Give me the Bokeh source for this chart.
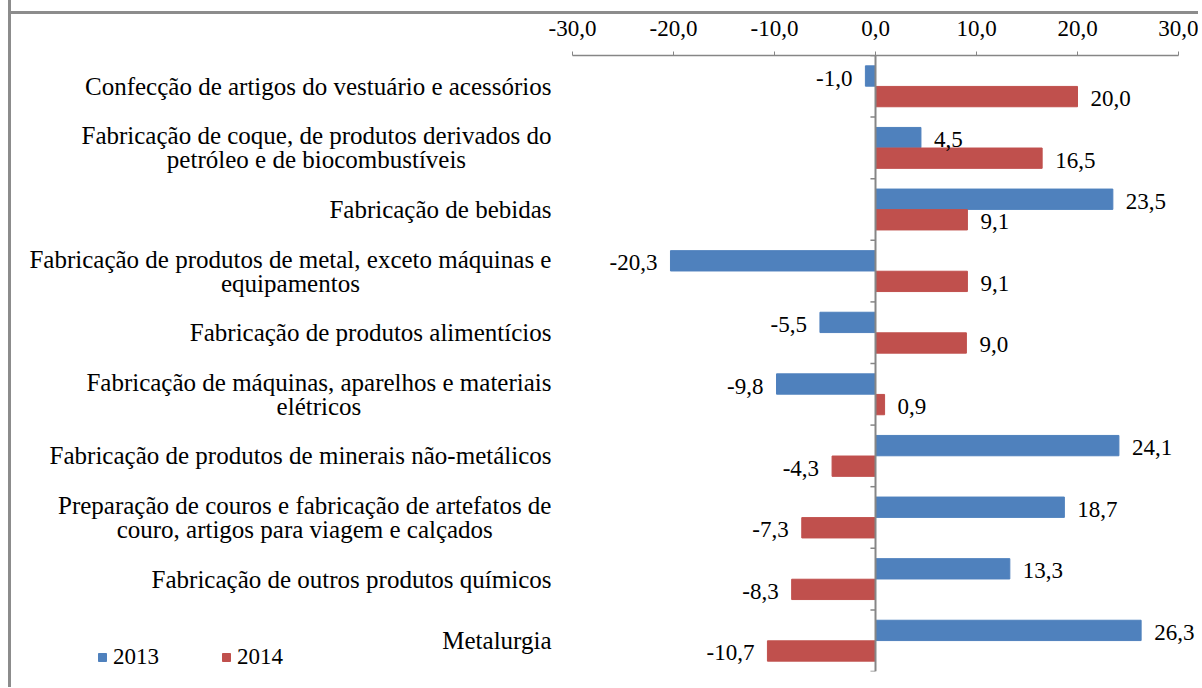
from bokeh.plotting import figure
from bokeh.models import (FactorRange, Range1d, Span, Legend, LegendItem,
                          ColumnDataSource, FixedTicker)
from bokeh.transform import dodge
from bokeh.embed import file_html
from bokeh.resources import INLINE
from bokeh.core.properties import value

categories = [
    "Confecção de artigos do vestuário e acessórios",
    "Fabricação de coque, de produtos derivados do\npetróleo e de biocombustíveis",
    "Fabricação de bebidas",
    "Fabricação de produtos de metal, exceto máquinas e\nequipamentos",
    "Fabricação de produtos alimentícios",
    "Fabricação de máquinas, aparelhos e materiais\nelétricos",
    "Fabricação de produtos de minerais não-metálicos",
    "Preparação de couros e fabricação de artefatos de\ncouro, artigos para viagem e calçados",
    "Fabricação de outros produtos químicos",
    "Metalurgia",
]
values_2013 = [-1.0, 4.5, 23.5, -20.3, -5.5, -9.8, 24.1, 18.7, 13.3, 26.3]
values_2014 = [20.0, 16.5, 9.1, 9.1, 9.0, 0.9, -4.3, -7.3, -8.3, -10.7]
series_names = ["2013", "2014"]
x_ticks = [-30, -20, -10, 0, 10, 20, 30]

FONT = "Liberation Serif"
BLUE = "#4F81BD"
RED = "#C0504D"
GRAY = "#868686"
BORDER = "#8c8c8c"
CAT_SIZE = 25
NUM_SIZE = 23

# layout (pixels inside the figure)
W, H_FIG = 1190, 687
X_LEFT_PX, X_RIGHT_PX = 561, 1167       # where -30 and 30 fall
PX_PER_UNIT = (X_RIGHT_PX - X_LEFT_PX) / 60.0
X0 = -30 - X_LEFT_PX / PX_PER_UNIT
X1 = 30 + (W - X_RIGHT_PX) / PX_PER_UNIT

# Times / Liberation Serif advance widths (per 1000 em) for centring wrapped labels
_TW = {" ": 250, ",": 250, "-": 333, ".": 250, "C": 667, "F": 556, "M": 889, "P": 556,
       "a": 444, "b": 500, "c": 444, "d": 500, "e": 444, "f": 333, "g": 500, "h": 500,
       "i": 278, "j": 278, "k": 500, "l": 278, "m": 778, "n": 500, "o": 500, "p": 500,
       "q": 500, "r": 333, "s": 389, "t": 278, "u": 500, "v": 500, "w": 722, "x": 500,
       "y": 500, "z": 444, "á": 444, "ã": 444, "â": 444, "à": 444, "é": 444, "ê": 444,
       "í": 278, "ó": 500, "õ": 500, "ô": 500, "ú": 500, "ç": 444}


def text_width(s, size):
    return sum(_TW.get(ch, 500) for ch in s) * size / 1000.0


def fmt(v):
    return f"{v:.1f}".replace(".", ",")


p = figure(width=W, height=H_FIG,
           y_range=FactorRange(factors=categories[::-1], range_padding=0),
           x_range=Range1d(X0, X1),
           x_axis_location="above", y_axis_location=None,
           output_backend="svg", toolbar_location=None,
           min_border_left=0, min_border_right=0,
           min_border_top=55, min_border_bottom=16)
p.border_fill_color = None
p.background_fill_color = None
p.styles = {"border-left": f"3px solid {BORDER}", "margin-left": "8px",
            "background": f"linear-gradient({BORDER}, {BORDER}) 0px 11px / 100% 3px no-repeat, #ffffff"}
p.outline_line_color = None
p.xgrid.grid_line_color = None
p.ygrid.grid_line_color = None

OFF = 0.167
H = 0.33


def make_source(vals):
    return ColumnDataSource(dict(
        cat=categories, v=vals, lab=[fmt(v) for v in vals],
        align=["left" if v >= 0 else "right" for v in vals],
        xoff=[13 if v >= 0 else -13 for v in vals],
    ))


s13 = make_source(values_2013)
s14 = make_source(values_2014)

r13 = p.hbar(y=dodge("cat", OFF, range=p.y_range), left=0, right="v", height=H,
             source=s13, fill_color=BLUE, line_color=BLUE)
r14 = p.hbar(y=dodge("cat", -OFF, range=p.y_range), left=0, right="v", height=H,
             source=s14, fill_color=RED, line_color=RED)

for src, off in ((s13, OFF), (s14, -OFF)):
    p.text(x="v", y=dodge("cat", off, range=p.y_range), text="lab", source=src,
           text_align="align", x_offset="xoff", y_offset=2, text_baseline="middle",
           text_font=value(FONT), text_font_size=f"{NUM_SIZE}px", text_color="#000000")

# category labels (right-aligned block, wrapped lines centred)
LABEL_GAP = 21
LINE_STEP = 12
lx, ly, lt, la, lxo, lyo = [], [], [], [], [], []
for cat in categories:
    lines = cat.split("\n")
    if len(lines) == 1:
        lx.append(-30); ly.append(cat); lt.append(lines[0]); la.append("right")
        lxo.append(-LABEL_GAP); lyo.append(0)
    else:
        wmax = max(text_width(s, CAT_SIZE) for s in lines)
        for i, s in enumerate(lines):
            lx.append(-30); ly.append(cat); lt.append(s); la.append("center")
            lxo.append(-LABEL_GAP - wmax / 2.0)
            lyo.append((i - (len(lines) - 1) / 2.0) * 2 * LINE_STEP)
lab_src = ColumnDataSource(dict(x=lx, y=ly, t=lt, a=la, xo=lxo, yo=lyo))
p.text(x="x", y="y", text="t", source=lab_src, text_align="a", x_offset="xo",
       y_offset="yo", text_baseline="middle", text_font=value(FONT),
       text_font_size=f"{CAT_SIZE}px", text_color="#000000")

# zero line with small ticks at category boundaries
p.add_layout(Span(location=0, dimension="height", line_color=GRAY, line_width=2))
bounds = list(range(len(categories) + 1))
p.segment(x0=[-0.5] * len(bounds), x1=[0] * len(bounds), y0=bounds, y1=bounds,
          line_color=GRAY, line_width=1.5)

# x axis (top)
xa = p.xaxis[0]
xa.bounds = (-30, 30)
xa.ticker = FixedTicker(ticks=x_ticks)
xa.major_label_overrides = {t: fmt(t) for t in x_ticks}
xa.axis_line_color = GRAY
xa.axis_line_width = 1.5
xa.major_tick_line_color = GRAY
xa.major_tick_out = 4
xa.major_tick_in = 0
xa.minor_tick_line_color = None
xa.major_label_text_font = FONT
xa.major_label_text_font_size = f"{NUM_SIZE}px"
xa.major_label_text_color = "#000000"
xa.major_label_standoff = 16

legend = Legend(items=[LegendItem(label=series_names[0], renderers=[r13]),
                       LegendItem(label=series_names[1], renderers=[r14])],
                orientation="horizontal", location=(86, 1),
                glyph_width=10, glyph_height=10, label_standoff=6, spacing=62,
                padding=0, margin=0, border_line_color=None,
                background_fill_alpha=0,
                label_text_font=FONT, label_text_font_size=f"{NUM_SIZE}px",
                label_text_color="#000000")
p.add_layout(legend, "center")

open("out.html", "w").write(file_html(p, INLINE))
